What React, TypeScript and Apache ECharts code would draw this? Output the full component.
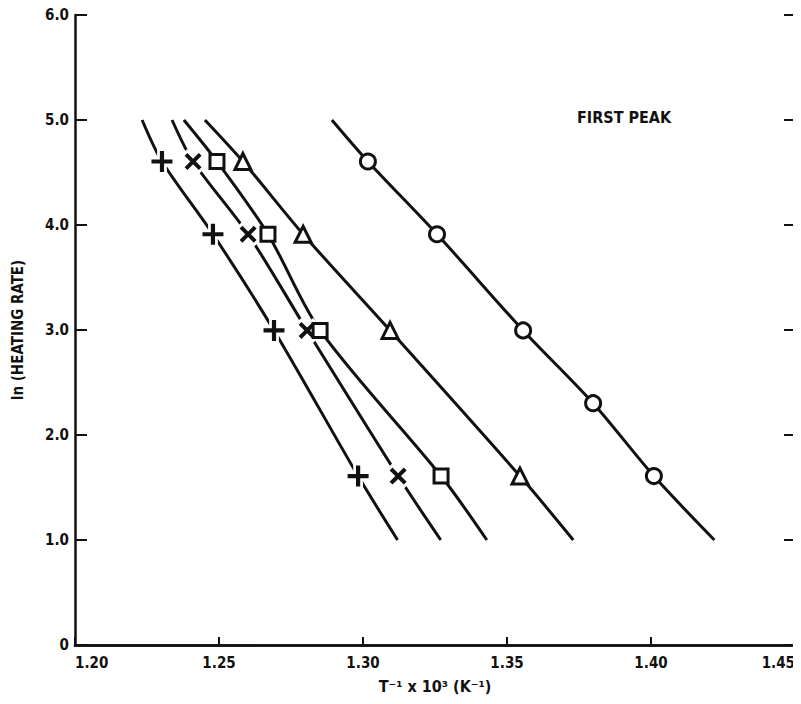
import React, { useEffect, useRef } from "react";
import * as echarts from "echarts";

// ln(heating rate) levels of the measurements
const lnRate = [4.605, 3.912, 2.996, 2.303, 1.609];

// reciprocal peak temperatures (T^-1 x 10^3, K^-1) for each sample series
const plusT = [1.2302, 1.2479, 1.2691, 1.2983];
const crossT = [1.241, 1.2601, 1.2806, 1.3122];
const squareT = [1.2493, 1.267, 1.2851, 1.3271];
const triangleT = [1.2583, 1.2792, 1.3094, 1.3545];
const circleT = [1.3017, 1.3257, 1.3556, 1.3799, 1.401];

// fitted curve ends (at ln rate 5.0 and 1.0)
const curveTopLn = 5.0;
const curveBottomLn = 1.0;
const curveTopT = [1.2233, 1.2337, 1.2378, 1.2451, 1.2892];
const curveBottomT = [1.312, 1.327, 1.343, 1.373, 1.422];

const xTicks = ["1.20", "1.25", "1.30", "1.35", "1.40", "1.45"];
const yTicks = ["0", "1.0", "2.0", "3.0", "4.0", "5.0", "6.0"];

const FONT = "'Liberation Sans Narrow', 'DejaVu Sans Condensed', 'Liberation Sans', sans-serif";
const INK = "#111";

const plusPath =
  "path://M-1,-5 L1,-5 L1,-1 L5,-1 L5,1 L1,1 L1,5 L-1,5 L-1,1 L-5,1 L-5,-1 L-1,-1 Z";
const haloPath =
  "path://M-1.8,-5 L1.8,-5 L1.8,-1.8 L5,-1.8 L5,1.8 L1.8,1.8 L1.8,5 L-1.8,5 L-1.8,1.8 L-5,1.8 L-5,-1.8 L-1.8,-1.8 Z";

export default function App() {
  const ref = useRef<HTMLDivElement>(null);
  useEffect(() => {
    if (!ref.current) return;
    const chart = echarts.init(ref.current, undefined, { renderer: "svg" });

    const sets = [
      { name: "plus", t: plusT, symbol: plusPath, size: 21, rotate: 0, filled: true },
      { name: "cross", t: crossT, symbol: plusPath, size: 20, rotate: 45, filled: true },
      { name: "square", t: squareT, symbol: "rect", size: 14, rotate: 0, filled: false },
      { name: "triangle", t: triangleT, symbol: "triangle", size: 16, rotate: 0, filled: false },
      { name: "circle", t: circleT, symbol: "circle", size: 15, rotate: 0, filled: false },
    ];

    const series: any[] = [];
    sets.forEach((s, i) => {
      const pts = s.t.map((t, j) => {
        const ln = s.t.length === 5 ? lnRate[j] : [lnRate[0], lnRate[1], lnRate[2], lnRate[4]][j];
        return [t, ln];
      });
      series.push({
        type: "line",
        name: s.name + "-curve",
        data: [[curveTopT[i], curveTopLn], ...pts, [curveBottomT[i], curveBottomLn]],
        smooth: 0.3,
        showSymbol: false,
        symbol: "none",
        lineStyle: { color: INK, width: 3 },
        z: 2,
        silent: true,
      });
      if (s.filled) {
        series.push({
          type: "scatter",
          name: s.name + "-halo",
          data: pts,
          symbol: haloPath,
          symbolSize: s.size + 6,
          symbolRotate: s.rotate,
          itemStyle: { color: "#fff", opacity: 1 },
          z: 4,
          silent: true,
        });
      }
      series.push({
        type: "scatter",
        name: s.name,
        data: pts,
        symbol: s.symbol,
        symbolSize: s.size,
        symbolRotate: s.rotate,
        itemStyle: s.filled
          ? { color: INK, opacity: 1 }
          : { color: "#fff", borderColor: INK, borderWidth: 3, opacity: 1 },
        z: 5,
        silent: true,
      });
    });

    chart.setOption({
      animation: false,
      backgroundColor: "#fff",
      grid: { left: 75, right: 6, top: 15, bottom: 59 },
      title: {
        text: "FIRST PEAK",
        left: 572,
        top: 104,
        textStyle: { fontFamily: FONT, fontWeight: "bold", fontSize: 16, color: INK },
      },
      xAxis: [
        {
          type: "value",
          min: 1.2,
          max: 1.45,
          interval: 0.05,
          name: "T\u207B\u00B9 x 10\u00B3 (K\u207B\u00B9)",
          nameLocation: "middle",
          nameGap: 33,
          nameTextStyle: { fontFamily: FONT, fontWeight: "bold", fontSize: 16, color: INK },
          axisLine: { lineStyle: { color: INK, width: 2.5 } },
          axisTick: { inside: true, length: 8, lineStyle: { color: INK, width: 2 } },
          splitLine: { show: false },
          axisLabel: {
            margin: 10,
            fontFamily: FONT,
            fontWeight: "bold",
            fontSize: 15,
            color: INK,
            alignMinLabel: "left",
            alignMaxLabel: "right",
            formatter: (v: number) => xTicks[Math.round((v - 1.2) / 0.05)] ?? "",
          },
        },
        {
          type: "value",
          position: "top",
          min: 1.2,
          max: 1.45,
          interval: 0.05,
          axisLine: { lineStyle: { color: INK, width: 2.5 } },
          axisTick: { show: false },
          axisLabel: { show: false },
          splitLine: { show: false },
        },
      ],
      yAxis: [
        {
          type: "value",
          min: 0,
          max: 6,
          interval: 1,
          name: "ln (HEATING RATE)",
          nameLocation: "middle",
          nameGap: 50,
          nameTextStyle: { fontFamily: FONT, fontWeight: "bold", fontSize: 15, color: INK },
          axisLine: { lineStyle: { color: INK, width: 2.5 } },
          axisTick: { inside: true, length: 12, lineStyle: { color: INK, width: 2 } },
          splitLine: { show: false },
          axisLabel: {
            margin: 6,
            fontFamily: FONT,
            fontWeight: "bold",
            fontSize: 15,
            color: INK,
            formatter: (v: number) => yTicks[Math.round(v)] ?? "",
          },
        },
        {
          type: "value",
          position: "right",
          min: 0,
          max: 6,
          interval: 1,
          axisLine: { lineStyle: { color: INK, width: 2.5 } },
          axisTick: { inside: true, length: 11, lineStyle: { color: INK, width: 2 } },
          axisLabel: { show: false },
          splitLine: { show: false },
        },
      ],
      series,
    });
    return () => chart.dispose();
  }, []);
  return <div ref={ref} style={{ width: 801, height: 704, margin: -8 }} />;
}
